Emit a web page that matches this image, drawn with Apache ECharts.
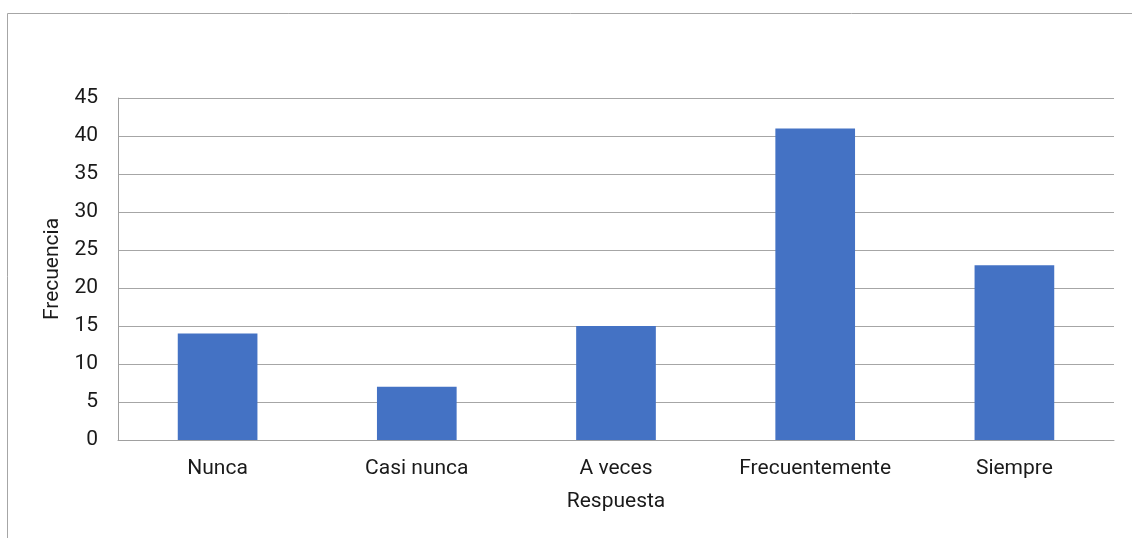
<!DOCTYPE html>
<html>
<head>
<meta charset="utf-8">
<script src="https://cdn.jsdelivr.net/npm/echarts@6/dist/echarts.min.js"></script>
<style>
  html, body { margin: 0; padding: 0; background: #fff; }
  #chart { width: 1132px; height: 538px; }
</style>
</head>
<body>
<div id="chart"></div>
<script>
// Survey responses and their frequencies
const categories = ['Nunca', 'Casi nunca', 'A veces', 'Frecuentemente', 'Siempre'];
const frequencies = [14, 7, 15, 41, 23];
const xAxisTitle = 'Respuesta';
const yAxisTitle = 'Frecuencia';

const chart = echarts.init(document.getElementById('chart'));
const textStyle = { fontFamily: 'Roboto', fontSize: 21, color: '#1a1a1a' };

chart.setOption({
  animation: false,
  textStyle: { fontFamily: 'Roboto' },
  graphic: [{
    type: 'rect',
    shape: { x: 7.5, y: 13.5, width: 1300, height: 700 },
    style: { fill: 'none', stroke: '#a6a6a6', lineWidth: 1 },
    silent: true
  }],
  grid: { left: 118, right: 18, top: 98, bottom: 98, containLabel: false },
  xAxis: {
    type: 'category',
    data: categories,
    name: xAxisTitle,
    nameLocation: 'middle',
    nameGap: 51,
    nameTextStyle: textStyle,
    axisLine: { lineStyle: { color: '#a0a0a0', width: 1 } },
    axisTick: { show: false },
    axisLabel: Object.assign({ margin: 18 }, textStyle)
  },
  yAxis: {
    type: 'value',
    min: 0,
    max: 45,
    interval: 5,
    name: yAxisTitle,
    nameLocation: 'middle',
    nameGap: 48,
    nameRotate: 90,
    nameTextStyle: textStyle,
    axisLine: { show: true, lineStyle: { color: '#a0a0a0', width: 1 } },
    axisTick: { show: false },
    axisLabel: Object.assign({ margin: 20, padding: [4, 0, 0, 0] }, textStyle),
    splitLine: { lineStyle: { color: '#a6a6a6', width: 1 } }
  },
  series: [{
    type: 'bar',
    data: frequencies,
    barWidth: '40%',
    itemStyle: { color: '#4472C4' }
  }]
});
</script>
</body>
</html>
